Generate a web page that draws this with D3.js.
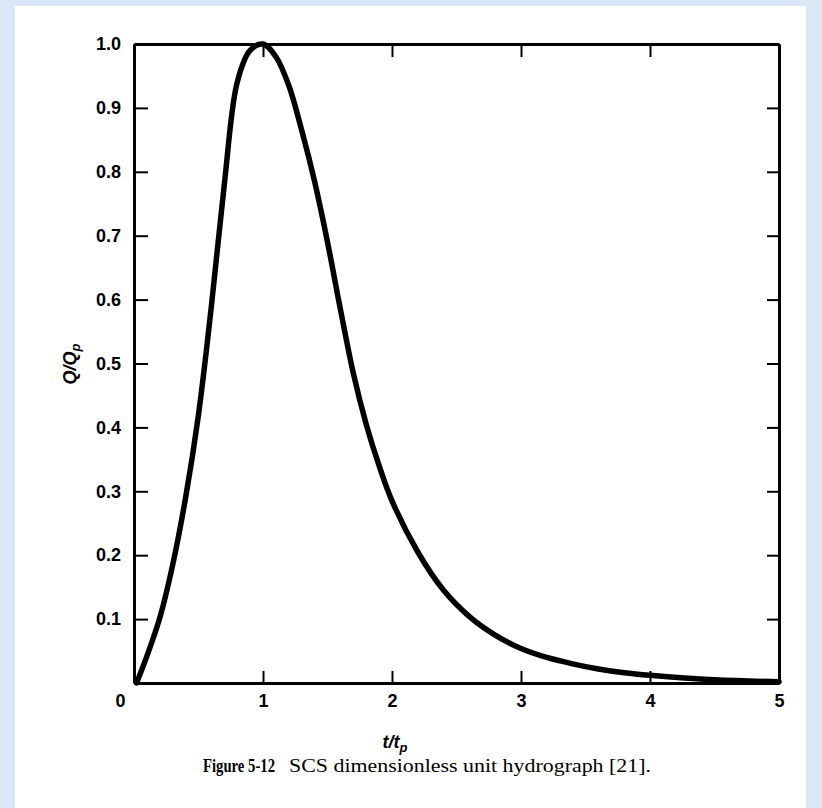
<!DOCTYPE html>
<html>
<head>
<meta charset="utf-8">
<script src="https://cdn.jsdelivr.net/npm/d3@7"></script>
<style>
  html, body { margin: 0; padding: 0; background: #d9e7f6; }
  svg { display: block; }
</style>
</head>
<body>
<svg id="chart" width="822" height="808"></svg>
<script>
// Dimensionless time t/tp and discharge ratio Q/Qp
const tRatio = [0.02, 0.1, 0.2, 0.3, 0.4, 0.5, 0.6, 0.7, 0.8, 0.9, 1.0, 1.1, 1.2, 1.3, 1.4, 1.5, 1.6, 1.7, 1.8, 1.9, 2.0, 2.2, 2.4, 2.6, 2.8, 3.0, 3.2, 3.4, 3.6, 3.8, 4.0, 4.5, 5.0];
const qRatio = [0.0, 0.042, 0.102, 0.185, 0.29, 0.42, 0.59, 0.78, 0.94, 0.99, 1.0, 0.98, 0.935, 0.865, 0.785, 0.69, 0.585, 0.485, 0.405, 0.34, 0.285, 0.205, 0.145, 0.104, 0.075, 0.054, 0.04, 0.03, 0.022, 0.016, 0.012, 0.005, 0.002];
const xTicks = [0, 1, 2, 3, 4, 5];
const yTicks = [0.1, 0.2, 0.3, 0.4, 0.5, 0.6, 0.7, 0.8, 0.9, 1.0];
const captionBold = "Figure 5-12";
const captionText = "SCS dimensionless unit hydrograph [21].";

const svg = d3.select("#chart");

// paper background
svg.append("rect").attr("x", 15).attr("y", 6).attr("width", 791).attr("height", 802).attr("fill", "#ffffff");

const x = d3.scaleLinear().domain([0, 5]).range([134, 779]);
const y = d3.scaleLinear().domain([0, 1]).range([683, 44]);

const labelFont = "'Liberation Sans', Arial, Helvetica, sans-serif";

function styleAxis(g) {
  g.select(".domain").attr("stroke", "#000").attr("stroke-width", 3);
  g.selectAll(".tick line").attr("stroke", "#000").attr("stroke-width", 2);
  g.selectAll(".tick text").attr("fill", "#000").attr("font-family", labelFont)
    .attr("font-weight", "bold").attr("font-size", 18);
}

// left axis
const gL = svg.append("g").attr("transform", `translate(${x(0)},0)`)
  .call(d3.axisLeft(y).tickValues(yTicks).tickFormat(d3.format(".1f"))
    .tickSizeInner(-14).tickSizeOuter(0).tickPadding(13));
styleAxis(gL);

// right axis
const gR = svg.append("g").attr("transform", `translate(${x(5)},0)`)
  .call(d3.axisRight(y).tickValues(yTicks).tickFormat("")
    .tickSizeInner(-12).tickSizeOuter(0));
styleAxis(gR);

// top axis
const gT = svg.append("g").attr("transform", `translate(0,${y(1)})`)
  .call(d3.axisTop(x).tickValues(xTicks).tickFormat("")
    .tickSizeInner(-13).tickSizeOuter(0));
styleAxis(gT);

// bottom axis
const gB = svg.append("g").attr("transform", `translate(0,${y(0)})`)
  .call(d3.axisBottom(x).tickValues(xTicks).tickFormat(d3.format("d"))
    .tickSizeInner(-12).tickSizeOuter(0).tickPadding(11));
styleAxis(gB);
gB.selectAll(".tick text").filter(d => d === 0).attr("dx", -14);

// hydrograph curve
const pts = tRatio.map((t, i) => [t, qRatio[i]]);
const line = d3.line().x(d => x(d[0])).y(d => y(d[1])).curve(d3.curveCatmullRom.alpha(0.5));
svg.append("path").datum(pts).attr("d", line)
  .attr("fill", "none").attr("stroke", "#000").attr("stroke-width", 5.5)
  .attr("stroke-linejoin", "round").attr("stroke-linecap", "round");

// x axis title t/tp
const xt = svg.append("text").attr("x", 395).attr("y", 748)
  .attr("text-anchor", "middle").attr("font-family", labelFont)
  .attr("font-weight", "bold").attr("font-style", "italic").attr("font-size", 18).attr("fill", "#000");
xt.append("tspan").text("t/t");
xt.append("tspan").attr("dy", 4).attr("font-size", 13).text("p");

// y axis title Q/Qp
const yt = svg.append("text").attr("transform", "translate(76,364) rotate(-90)")
  .attr("text-anchor", "middle").attr("font-family", labelFont).attr("font-weight", "bold")
  .attr("font-style", "italic").attr("font-size", 18).attr("fill", "#000");
yt.append("tspan").text("Q/Q");
yt.append("tspan").attr("dy", 4).attr("font-size", 13).text("p");

// caption
const capFont = "'Liberation Serif', 'Times New Roman', serif";
svg.append("text").attr("x", 203).attr("y", 772)
  .attr("font-family", capFont).attr("font-size", 18).attr("font-weight", "bold").attr("fill", "#000")
  .attr("textLength", 72).attr("lengthAdjust", "spacingAndGlyphs").text(captionBold);
svg.append("text").attr("x", 289).attr("y", 772)
  .attr("font-family", capFont).attr("font-size", 19).attr("fill", "#000")
  .attr("textLength", 362).attr("lengthAdjust", "spacingAndGlyphs").text(captionText);
</script>
</body>
</html>
